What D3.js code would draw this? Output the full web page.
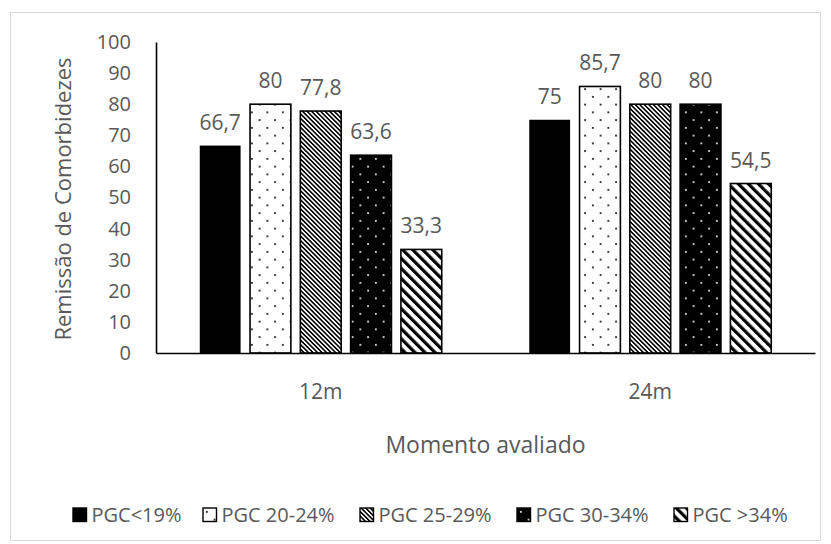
<!DOCTYPE html>
<html>
<head>
<meta charset="utf-8">
<script src="https://cdn.jsdelivr.net/npm/d3@7"></script>
<style>
  body { margin: 0; background: #fff; }
  text { font-family: "Open Sans", sans-serif; fill: #595959; }
</style>
</head>
<body>
<svg id="chart" width="831" height="544"></svg>
<script>
// Moments evaluated and body-fat groups
const categories = ["12m", "24m"];
const seriesNames = ["PGC<19%", "PGC 20-24%", "PGC 25-29%", "PGC 30-34%", "PGC >34%"];
// Comorbidity remission (%) per group
const values12m = [66.7, 80, 77.8, 63.6, 33.3];
const values24m = [75, 85.7, 80, 80, 54.5];
const yTicks = [0, 10, 20, 30, 40, 50, 60, 70, 80, 90, 100];
const yTitle = "Remissão de Comorbidezes";
const xTitle = "Momento avaliado";

const valuesByCategory = { "12m": values12m, "24m": values24m };
const rows = [];
categories.forEach(c => valuesByCategory[c].forEach((v, i) => rows.push({ cat: c, series: seriesNames[i], idx: i, value: v })));

const svg = d3.select("#chart");
const plot = { left: 156, right: 815, top: 42, bottom: 353 };

// Chart-area frame
svg.append("rect").attr("x", 10.5).attr("y", 12.5).attr("width", 810).attr("height", 528)
  .attr("fill", "#fff").attr("stroke", "#d9d9d9").attr("stroke-width", 1);

// Fill patterns for each group
const defs = svg.append("defs");
function dotPattern(id, bg, fg) {
  const p = defs.append("pattern").attr("id", id).attr("patternUnits", "userSpaceOnUse")
    .attr("width", 15.5).attr("height", 15.5);
  p.append("rect").attr("width", 15.5).attr("height", 15.5).attr("fill", bg);
  p.append("rect").attr("x", 3).attr("y", 3).attr("width", 1.7).attr("height", 1.7).attr("fill", fg);
  p.append("rect").attr("x", 10.75).attr("y", 10.75).attr("width", 1.7).attr("height", 1.7).attr("fill", fg);
}
function stripePattern(id, period, frac) {
  const p = defs.append("pattern").attr("id", id).attr("patternUnits", "userSpaceOnUse")
    .attr("width", period).attr("height", period).attr("patternTransform", "rotate(-45)");
  p.append("rect").attr("width", period).attr("height", period).attr("fill", "#fff");
  p.append("rect").attr("width", period * frac).attr("height", period).attr("fill", "#000");
}
dotPattern("pat-dots", "#fff", "#000");
dotPattern("pat-dots-inv", "#000", "#fff");
stripePattern("pat-fine", 3.2, 0.5);
stripePattern("pat-wide", 7.1, 0.45);
const fills = ["#000", "url(#pat-dots)", "url(#pat-fine)", "url(#pat-dots-inv)", "url(#pat-wide)"];

// Scales
const x0 = d3.scaleBand().domain(categories).range([plot.left, plot.right]).padding(0);
const x1 = d3.scaleBand().domain(seriesNames).range([0, x0.bandwidth()])
  .paddingInner(0.188).paddingOuter(0.87);
const y = d3.scaleLinear().domain([0, 100]).range([plot.bottom, plot.top]);

// Bars
svg.append("g").selectAll("rect").data(rows).join("rect")
  .attr("x", d => x0(d.cat) + x1(d.series))
  .attr("y", d => y(d.value))
  .attr("width", x1.bandwidth())
  .attr("height", d => y(0) - y(d.value))
  .attr("fill", d => fills[d.idx])
  .attr("stroke", "#000")
  .attr("stroke-width", d => d.idx === 0 ? 0 : 1.6);

// Value labels
const locale = d3.formatLocale({ decimal: ",", thousands: ".", grouping: [3], currency: ["", ""] });
const fmt = locale.format("~f");
svg.append("g").selectAll("text").data(rows).join("text")
  .attr("x", d => x0(d.cat) + x1(d.series) + x1.bandwidth() / 2)
  .attr("y", d => y(d.value) - 16)
  .attr("text-anchor", "middle")
  .style("font-size", "21px")
  .text(d => fmt(d.value));

// Y axis
const yAxis = svg.append("g").attr("transform", `translate(${plot.left},0)`)
  .call(d3.axisLeft(y).tickValues(yTicks).tickSize(0).tickPadding(25));
yAxis.select(".domain").attr("stroke", "#000").attr("stroke-width", 1.6);
yAxis.selectAll("text").style("font-size", "20px").attr("fill", "#595959")
  .style("font-family", '"Open Sans", sans-serif');

// X axis
const xAxis = svg.append("g").attr("transform", `translate(0,${plot.bottom})`)
  .call(d3.axisBottom(x0).tickSize(0).tickPadding(31));
xAxis.select(".domain").attr("stroke", "#000").attr("stroke-width", 1.6);
xAxis.selectAll("text").style("font-size", "21px").attr("fill", "#595959")
  .style("font-family", '"Open Sans", sans-serif');

// Axis titles
svg.append("text")
  .attr("transform", `translate(71,199) rotate(-90)`)
  .attr("text-anchor", "middle").style("font-size", "22px").text(yTitle);
svg.append("text")
  .attr("x", (plot.left + plot.right) / 2).attr("y", 453)
  .attr("text-anchor", "middle").style("font-size", "23px").text(xTitle);

// Legend
const legendX = [73, 203, 360, 517, 674];
const legend = svg.append("g").selectAll("g").data(seriesNames).join("g")
  .attr("transform", (d, i) => `translate(${legendX[i]},508)`);
legend.append("rect").attr("width", 13.5).attr("height", 13.5)
  .attr("fill", (d, i) => fills[i]).attr("stroke", "#000").attr("stroke-width", 1.4);
legend.append("text").attr("x", 18.5).attr("y", 14).style("font-size", "20px").text(d => d);
</script>
</body>
</html>
